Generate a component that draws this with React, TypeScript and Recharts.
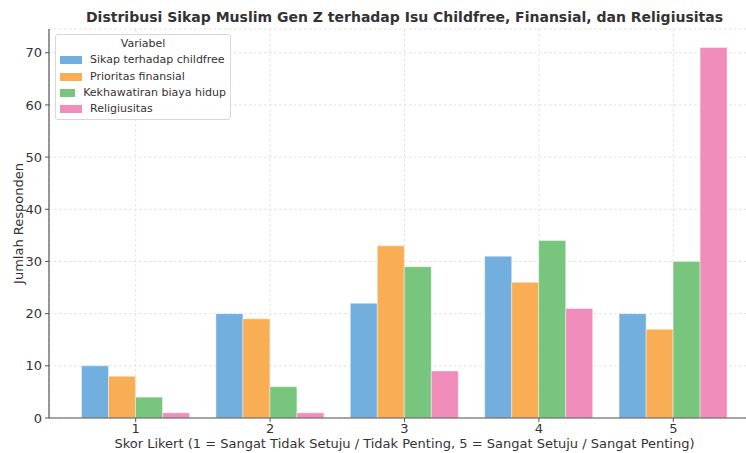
import React from "react";
import { Bar, BarChart, CartesianGrid, XAxis, YAxis } from "recharts";

// Likert-scale response counts per variable
const scores = ["1", "2", "3", "4", "5"];
const childfree = [10, 20, 22, 31, 20];
const finansial = [8, 19, 33, 26, 17];
const biayaHidup = [4, 6, 29, 34, 30];
const religiusitas = [1, 1, 9, 21, 71];
const yTicks = [0, 10, 20, 30, 40, 50, 60, 70];

const series = [
  { key: "childfree", name: "Sikap terhadap childfree", color: "#72afde" },
  { key: "finansial", name: "Prioritas finansial", color: "#f9ae56" },
  { key: "biayaHidup", name: "Kekhawatiran biaya hidup", color: "#78c67e" },
  { key: "religiusitas", name: "Religiusitas", color: "#f18dbb" },
];

const data = scores.map((s, i) => ({
  skor: s,
  childfree: childfree[i],
  finansial: finansial[i],
  biayaHidup: biayaHidup[i],
  religiusitas: religiusitas[i],
}));

const FONT = "'DejaVu Sans', sans-serif";
const TEXT = "#333333";
const AXIS = "#555555";
const TICK = { fontSize: 13, fill: TEXT, fontFamily: FONT };

// matplotlib-style legend box drawn over the plot's top-left corner
function LegendBox() {
  return (
    <div
      style={{
        position: "absolute",
        left: 55,
        top: 34,
        width: 176,
        boxSizing: "border-box",
        border: "1px solid #d8d8d8",
        borderRadius: 3,
        background: "rgba(255,255,255,0.85)",
        padding: "1px 4px 2px 4px",
        fontFamily: FONT,
        fontSize: 11,
        color: TEXT,
        lineHeight: "16.3px",
      }}
    >
      <div style={{ textAlign: "center" }}>Variabel</div>
      {series.map((s) => (
        <div key={s.key} style={{ display: "flex", alignItems: "center", whiteSpace: "nowrap" }}>
          <span style={{ width: 22, height: 8, background: s.color, marginRight: 8, display: "inline-block" }} />
          <span>{s.name}</span>
        </div>
      ))}
    </div>
  );
}

function YLabel({ viewBox }: any) {
  const cx = viewBox.x + 18;
  const cy = viewBox.y + viewBox.height / 2;
  return (
    <text
      x={cx}
      y={cy}
      transform={`rotate(-90, ${cx}, ${cy})`}
      textAnchor="middle"
      dominantBaseline="central"
      fontSize={13}
      fontFamily={FONT}
      fill={TEXT}
    >
      Jumlah Responden
    </text>
  );
}

function XLabel({ viewBox }: any) {
  return (
    <text
      x={viewBox.x + viewBox.width / 2}
      y={viewBox.y + 30}
      textAnchor="middle"
      fontSize={13}
      fontFamily={FONT}
      fill={TEXT}
    >
      Skor Likert (1 = Sangat Tidak Setuju / Tidak Penting, 5 = Sangat Setuju / Sangat Penting)
    </text>
  );
}

export default function App() {
  return (
    <div
      style={{
        position: "absolute",
        left: 0,
        top: 0,
        width: 746,
        height: 453,
        overflow: "hidden",
        background: "#fff",
      }}
    >
      <div
        style={{
          position: "absolute",
          left: 49,
          width: 711,
          top: 9,
          textAlign: "center",
          fontFamily: FONT,
          fontWeight: "bold",
          fontSize: 14,
          color: TEXT,
          zIndex: 2,
        }}
      >
        Distribusi Sikap Muslim Gen Z terhadap Isu Childfree, Finansial, dan Religiusitas
      </div>
      <BarChart
        width={770}
        height={453}
        data={data}
        margin={{ top: 29, right: 10, bottom: 0, left: 0 }}
        barGap={0}
        barSize={27}
      >
        <CartesianGrid stroke="#e0e0e0" strokeDasharray="2.5 2.5" />
        <XAxis
          dataKey="skor"
          height={35}
          padding={{ left: 19.5, right: 19.5 }}
          tick={TICK}
          tickSize={4}
          tickMargin={2}
          axisLine={{ stroke: AXIS, strokeWidth: 1.2 }}
          tickLine={{ stroke: AXIS }}
          label={<XLabel />}
        />
        <YAxis
          width={49}
          domain={[0, 74.55]}
          ticks={yTicks}
          allowDataOverflow
          tick={TICK}
          tickSize={4}
          tickMargin={3}
          axisLine={{ stroke: AXIS, strokeWidth: 1.2 }}
          tickLine={{ stroke: AXIS }}
          label={<YLabel />}
        />
        {series.map((s) => (
          <Bar
            key={s.key}
            dataKey={s.key}
            name={s.name}
            fill={s.color}
            stroke="#ffffff"
            strokeOpacity={0.5}
            strokeWidth={0.8}
            isAnimationActive={false}
          />
        ))}
      </BarChart>
      <LegendBox />
    </div>
  );
}
